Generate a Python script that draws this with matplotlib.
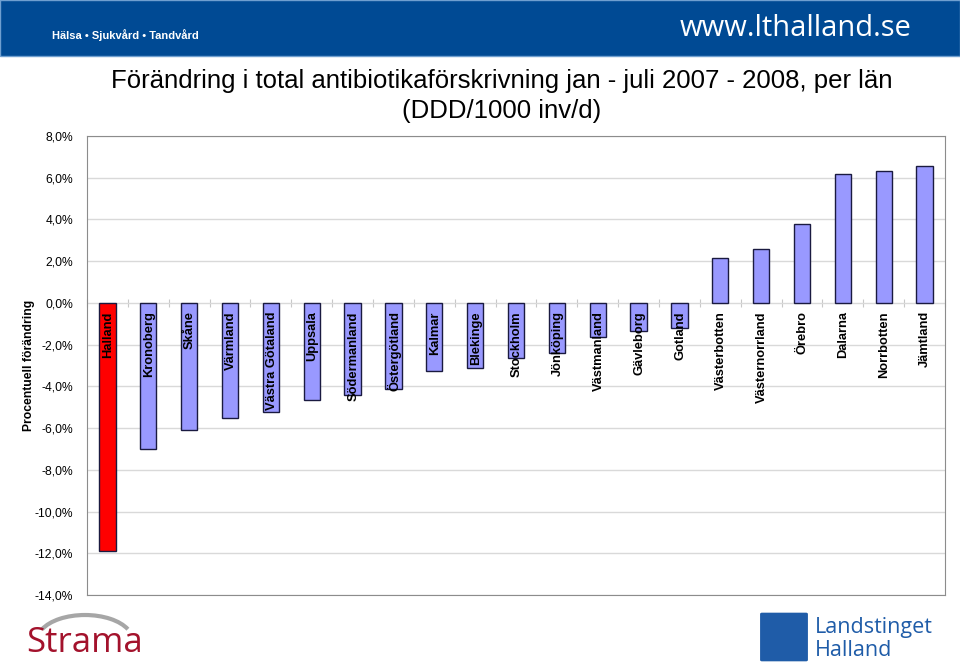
import matplotlib.pyplot as plt
from matplotlib.patches import Rectangle, Arc, FancyBboxPatch
from matplotlib.ticker import FuncFormatter, FixedLocator

plt.rcParams['font.family'] = ['Liberation Sans', 'DejaVu Sans']

lan = ['Halland', 'Kronoberg', 'Skåne', 'Värmland', 'Västra Götaland', 'Uppsala',
       'Södermanland', 'Östergötland', 'Kalmar', 'Blekinge', 'Stockholm', 'Jönköping',
       'Västmanland', 'Gävleborg', 'Gotland', 'Västerbotten', 'Västernorrland',
       'Örebro', 'Dalarna', 'Norrbotten', 'Jämtland']
forandring = [-11.9, -7.0, -6.1, -5.5, -5.25, -4.65, -4.4, -4.15, -3.25, -3.1, -2.65,
              -2.4, -1.65, -1.35, -1.2, 2.15, 2.6, 3.8, 6.2, 6.3, 6.55]
y_ticks = [8, 6, 4, 2, 0, -2, -4, -6, -8, -10, -12, -14]

fig = plt.figure(figsize=(9.6, 6.63), dpi=100)

# header band
fig.patches.append(Rectangle((0, 1 - 56 / 663), 1, 56 / 663, transform=fig.transFigure,
                             facecolor='#004a94', edgecolor='#6f9fd0', linewidth=1))
fig.text(52 / 960, 1 - 35 / 663, 'Hälsa • Sjukvård • Tandvård', color='white',
         fontsize=8, fontweight='bold', va='center')
fig.text(912 / 960, 1 - 29 / 663, 'www.lthalland.se', color='white', fontsize=21,
         ha='right', va='center', family=['Open Sans', 'DejaVu Sans'])

ax = fig.add_axes([87 / 960, 1 - 595 / 663, (945 - 87) / 960, (595 - 136) / 663])
x = range(len(lan))
colors = ['#ff0000'] + ['#9999ff'] * (len(lan) - 1)
ax.bar(x, forandring, width=0.4, color=colors, edgecolor='#1a1a40', linewidth=1, zorder=3)

for i, name in enumerate(lan):
    ax.annotate(name, (i, 0), xytext=(0.5, -6), textcoords='offset points',
                rotation=90, ha='center', va='top', fontsize=9.3, fontweight='bold',
                zorder=4)

ax.set_xlim(-0.5, len(lan) - 0.5)
ax.set_ylim(-14, 8)
ax.set_yticks(y_ticks)
ax.yaxis.set_major_formatter(FuncFormatter(lambda v, p: f'{v:.1f}%'.replace('.', ',')))
ax.tick_params(axis='y', labelsize=8.7, length=0, pad=10)
ax.set_xticks([])
ax.grid(axis='y', color='#d9d9d9', linewidth=1, zorder=0)
for s in ax.spines.values():
    s.set_color('#8c8c8c')
ax.set_ylabel('Procentuell förändring', fontsize=8.7, fontweight='bold')
ax.yaxis.set_label_coords(-52 / 858, 0.5)

# category tick marks on the zero line
sec = ax.secondary_xaxis(14 / 22)
sec.xaxis.set_major_locator(FixedLocator([i - 0.5 for i in range(len(lan) + 1)]))
sec.tick_params(direction='inout', length=6, color='#c8c8c8', labelbottom=False,
                labeltop=False)
sec.spines['top'].set_visible(False)
sec.spines['bottom'].set_visible(False)

fig.text(502 / 960, 1 - 96 / 663,
         'Förändring i total antibiotikaförskrivning jan - juli 2007 - 2008, per län\n(DDD/1000 inv/d)',
         ha='center', va='center', fontsize=18.5, linespacing=1.3)

# Strama logo
fig.patches.append(Arc((85 / 960, 1 - 640 / 663), 95 / 960, 50 / 663, theta1=20, theta2=160,
                       transform=fig.transFigure, color='#a6a6a6', linewidth=3))
fig.text(85 / 960, 1 - 643 / 663, 'Strama', color='#a3122c', fontsize=25,
         ha='center', va='center', family=['Open Sans', 'DejaVu Sans'])

# Landstinget Halland logo
fig.patches.append(FancyBboxPatch((762 / 960, 1 - 660 / 663), 44 / 960, 46 / 663,
                                  boxstyle='round,pad=0.002', transform=fig.transFigure,
                                  facecolor='#1f5ca8', edgecolor='none'))
fig.text(815 / 960, 1 - 627 / 663, 'Landstinget', color='#1f5ca8', fontsize=15.5,
         va='center', family=['Open Sans', 'DejaVu Sans'])
fig.text(815 / 960, 1 - 651 / 663, 'Halland', color='#1f5ca8', fontsize=15.5,
         va='center', family=['Open Sans', 'DejaVu Sans'])

fig.savefig('out.png', dpi=100)
